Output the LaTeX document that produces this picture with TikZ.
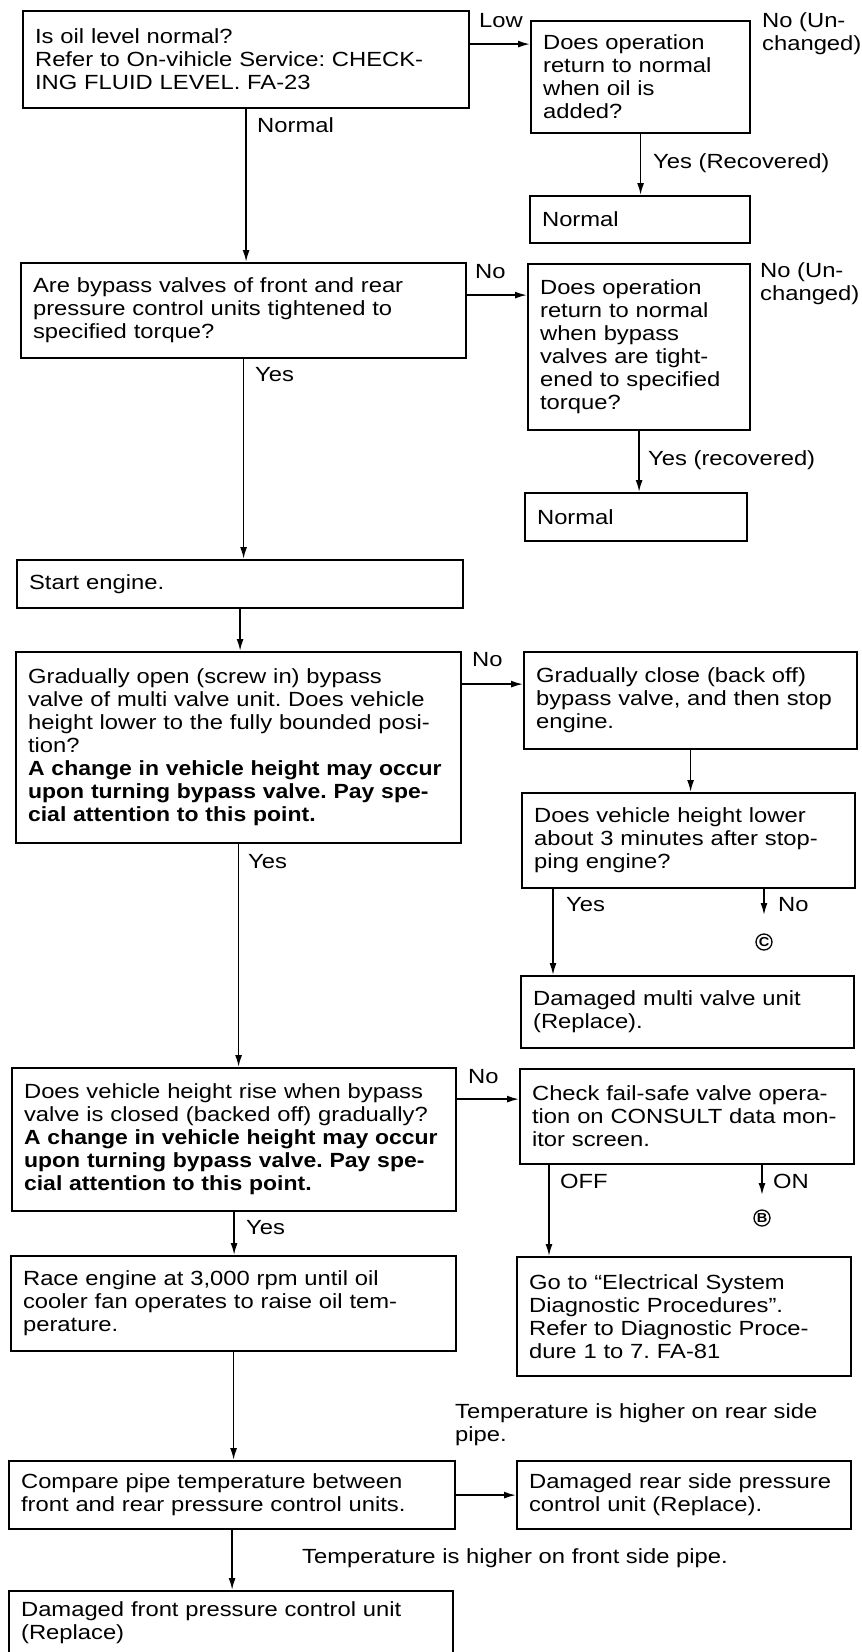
\documentclass[tikz,border=0pt]{standalone}
\usepackage{fontspec}
\setmainfont{Liberation Sans}[FakeStretch=1.16]
\newfontfamily\warnfont{Liberation Sans}[FakeStretch=1.12]
\usetikzlibrary{arrows.meta}
\frenchspacing

\begin{document}
\begin{tikzpicture}[
	x=1pt, y=-1pt,
	font=\fontsize{20.5}{23}\selectfont,
	cell/.style={
		rectangle,
		draw,
		line width=2.2pt,
		anchor=north west,
		align=left,
		inner xsep=12pt,
		inner ysep=0pt
	},
	lbl/.style={anchor=west, inner sep=0pt},
	circled/.style={% letters in a ring, where the chart goes on
		circle,
		draw,
		line width=1.3pt,
		inner sep=0pt,
		minimum size=16pt,
		font=\warnfont\bfseries\fontsize{13}{13}\selectfont
	},
	ArrowF/.style={-{Latex[length=12pt,width=7pt]}, line width=1.7pt},
]
	\useasboundingbox (0,0) rectangle (862,1652);

	% oil level
	\node [cell, text width=422pt, minimum height=97pt] (oil) at (22,10) {Is oil level normal?\\Refer to On-vihicle Service: CHECK-\\ING FLUID LEVEL. FA-23};
	\node [cell, text width=195pt, minimum height=112pt] (added) at (530,20) {Does operation\\return to normal\\when oil is\\added?};
	\node [cell, text width=196pt, minimum height=47pt] (normA) at (529,195) {Normal};

	% bypass valves
	\node [cell, text width=421pt, minimum height=95pt] (bypass) at (20,262) {Are bypass valves of front and rear\\pressure control units tightened to\\specified torque?};
	\node [cell, text width=198pt, minimum height=166pt] (tight) at (527,263) {Does operation\\return to normal\\when bypass\\valves are tight-\\ened to specified\\torque?};
	\node [cell, text width=198pt, minimum height=48pt] (normB) at (524,492) {Normal};

	\node [cell, text width=422pt, minimum height=48pt] (start) at (16,559) {Start engine.};

	% multi valve unit
	\node [cell, text width=421pt, minimum height=191pt] (open) at (15,651) {Gradually open (screw in) bypass\\valve of multi valve unit. Does vehicle\\height lower to the fully bounded posi-\\tion?\\{\warnfont\bfseries A change in vehicle height may occur\\upon turning bypass valve. Pay spe-\\cial attention to this point.}};
	\node [cell, text width=309pt, minimum height=97pt] (close) at (523,651) {Gradually close (back off)\\bypass valve, and then stop\\engine.};
	\node [cell, text width=309pt, minimum height=95pt] (lower) at (521,792) {Does vehicle height lower\\about 3 minutes after stop-\\ping engine?};
	\node [cell, text width=309pt, minimum height=72pt] (multi) at (520,975) {Damaged multi valve unit\\(Replace).};

	% fail-safe valve
	\node [cell, text width=420pt, minimum height=143pt] (rise) at (11,1067) {Does vehicle height rise when bypass\\valve is closed (backed off) gradually?\\{\warnfont\bfseries A change in vehicle height may occur\\upon turning bypass valve. Pay spe-\\cial attention to this point.}};
	\node [cell, text width=310pt, minimum height=95pt] (failsafe) at (519,1068) {Check fail-safe valve opera-\\tion on CONSULT data mon-\\itor screen.};
	\node [cell, text width=310pt, minimum height=119pt] (elec) at (516,1256) {Go to ``Electrical System\\Diagnostic Procedures''.\\Refer to Diagnostic Proce-\\dure 1 to 7. FA-81};

	% pipe temperature
	\node [cell, text width=421pt, minimum height=95pt] (race) at (10,1255) {Race engine at 3,000 rpm until oil\\cooler fan operates to raise oil tem-\\perature.};
	\node [cell, text width=422pt, minimum height=68pt] (compare) at (8,1460) {Compare pipe temperature between\\front and rear pressure control units.};
	\node [cell, text width=310pt, minimum height=68pt] (rear) at (516,1460) {Damaged rear side pressure\\control unit (Replace).};
	\node [cell, text width=420pt, minimum height=63pt] (front) at (8,1590) {Damaged front pressure control unit\\(Replace)};

	% branch labels
	\node [lbl] (lLow) at (479,21) {Low};
	\node [lbl, anchor=north west, align=left] (lUnA) at (762,12) {No (Un-\\changed)};
	\node [lbl] (lNormal) at (257,125) {Normal};
	\node [lbl] (lRecA) at (653,163) {Yes (Recovered)};
	\node [lbl] (lNoA) at (475,272) {No};
	\node [lbl, anchor=north west, align=left] (lUnB) at (760,262) {No (Un-\\changed)};
	\node [lbl] (lYesA) at (255,375) {Yes};
	\node [lbl] (lRecB) at (648,460) {Yes (recovered)};
	\node [lbl] (lNoB) at (472,660) {No};
	\node [lbl] (lYesB) at (248,862) {Yes};
	\node [lbl] (lYesC) at (566,905) {Yes};
	\node [lbl] (lNoC) at (778,905) {No};
	\node [lbl] (lNoD) at (468,1077) {No};
	\node [lbl] (lOff) at (560,1181) {OFF};
	\node [lbl] (lOn) at (773,1181) {ON};
	\node [lbl] (lYesD) at (246,1228) {Yes};
	\node [lbl, anchor=north west, align=left] (lRear) at (455,1403) {Temperature is higher on rear side\\pipe.};
	\node [lbl] (lFront) at (302,1558) {Temperature is higher on front side pipe.};

	\node [circled] (goC) at (764,942) {C};
	\node [circled] (goB) at (762,1218) {B};
	\coordinate (toC) at (764,915);
	\coordinate (toB) at (762,1195);

	% connectors
	\draw [ArrowF] ([yshift=15.5pt]oil.east) coordinate (lowA) -- (lowA -| added.west);
	\draw [ArrowF] (oil.south) -- (oil.south |- bypass.north);
	\draw [ArrowF] (added.south) -- (added.south |- normA.north);
	\draw [ArrowF] ([yshift=15.5pt]bypass.east) coordinate (noA) -- (noA -| tight.west);
	\draw [ArrowF] (bypass.south) -- (bypass.south |- start.north);
	\draw [ArrowF] (tight.south) -- (tight.south |- normB.north);
	\draw [ArrowF] (start.south) -- (start.south |- open.north);
	\draw [ArrowF] ([yshift=63.5pt]open.east) coordinate (noB) -- (noB -| close.west);
	\draw [ArrowF] (close.south) -- (close.south |- lower.north);
	\draw [ArrowF] ([xshift=32pt]lower.south west) coordinate (yesC) -- (yesC |- multi.north);
	\draw [ArrowF] (toC |- lower.south) -- (toC);
	\draw [ArrowF] (open.south) -- (open.south |- rise.north);
	\draw [ArrowF] ([yshift=40.5pt]rise.east) coordinate (noD) -- (noD -| failsafe.west);
	\draw [ArrowF] ([xshift=30pt]failsafe.south west) coordinate (offE) -- (offE |- elec.north);
	\draw [ArrowF] (toB |- failsafe.south) -- (toB);
	\draw [ArrowF] (rise.south) -- (rise.south |- race.north);
	\draw [ArrowF] (race.south) -- (race.south |- compare.north);
	\draw [ArrowF] (compare.east) -- (compare.east -| rear.west);
	\draw [ArrowF] (compare.south) -- (compare.south |- front.north);
\end{tikzpicture}
\end{document}
